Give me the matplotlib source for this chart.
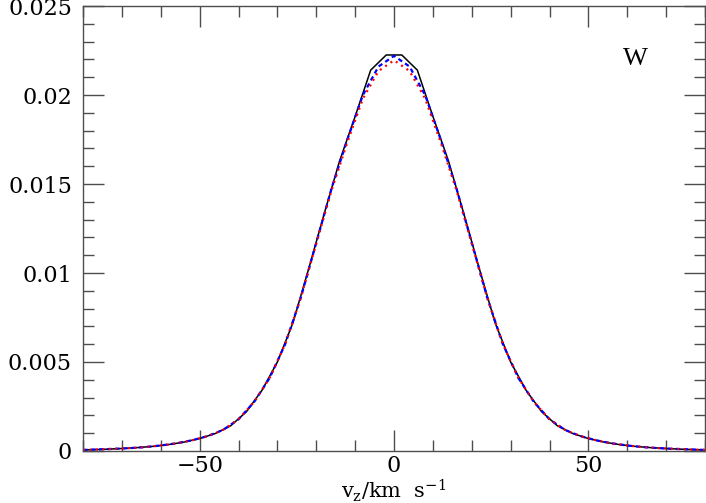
import numpy as np
import matplotlib
matplotlib.use("Agg")
import matplotlib.pyplot as plt
from matplotlib.ticker import MultipleLocator, FuncFormatter

plt.rcParams['font.family'] = ['DejaVu Serif']
plt.rcParams['mathtext.fontset'] = 'dejavuserif'
plt.rcParams['axes.unicode_minus'] = True

# black solid curve (grid every 4 km/s, centred on +-2)
vz_black = [-82, -78, -74, -70, -66, -62, -58, -54, -50, -46, -42, -38, -34, -30,
            -26, -22, -18, -14, -10, -6, -2, 2, 6, 10, 14, 18, 22, 26, 30, 34,
            38, 42, 46, 50, 54, 58, 62, 66, 70, 74, 78, 82]
f_black = [0.00005, 0.00007, 0.00010, 0.00014, 0.00019, 0.00026, 0.00036, 0.00050,
           0.00070, 0.00098, 0.00142, 0.00220, 0.00340, 0.00500, 0.00720, 0.01020,
           0.01330, 0.01630, 0.01880, 0.02140, 0.02225, 0.02225, 0.02140, 0.01880,
           0.01630, 0.01330, 0.01020, 0.00720, 0.00500, 0.00340, 0.00220, 0.00142,
           0.00098, 0.00070, 0.00050, 0.00036, 0.00026, 0.00019, 0.00014, 0.00010,
           0.00007, 0.00005]

# blue dashed and red dotted curves (grid every 4 km/s, centred on 0)
vz_col = [-80, -76, -72, -68, -64, -60, -56, -52, -48, -44, -40, -36, -32, -28,
          -24, -20, -16, -12, -8, -4, 0, 4, 8, 12, 16, 20, 24, 28, 32, 36, 40,
          44, 48, 52, 56, 60, 64, 68, 72, 76, 80]
f_blue = [0.00006, 0.00009, 0.00012, 0.00016, 0.00022, 0.00031, 0.00043, 0.00060,
          0.00083, 0.00118, 0.00178, 0.00275, 0.00410, 0.00600, 0.00860, 0.01170,
          0.01480, 0.01750, 0.02000, 0.02160, 0.02220, 0.02160, 0.02000, 0.01750,
          0.01480, 0.01170, 0.00860, 0.00600, 0.00410, 0.00275, 0.00178, 0.00118,
          0.00083, 0.00060, 0.00043, 0.00031, 0.00022, 0.00016, 0.00012, 0.00009,
          0.00006]
f_red = [0.00006, 0.00009, 0.00012, 0.00016, 0.00022, 0.00031, 0.00043, 0.00060,
         0.00083, 0.00118, 0.00178, 0.00275, 0.00410, 0.00600, 0.00860, 0.01165,
         0.01470, 0.01735, 0.01980, 0.02135, 0.02195, 0.02135, 0.01980, 0.01735,
         0.01470, 0.01165, 0.00860, 0.00600, 0.00410, 0.00275, 0.00178, 0.00118,
         0.00083, 0.00060, 0.00043, 0.00031, 0.00022, 0.00016, 0.00012, 0.00009,
         0.00006]

fig = plt.figure(figsize=(7.06, 5.03), dpi=100)
ax = fig.add_axes([0.1176, 0.1034, 0.8810, 0.8846])

ax.plot(vz_black, f_black, color='black', lw=1.1)
ax.plot(vz_col, f_blue, color='blue', lw=1.6, ls=(0, (2.0, 1.6)))
ax.plot(vz_col, f_red, color='red', lw=1.6, ls=(0, (0.9, 2.0)))

ax.set_xlim(-80, 80)
ax.set_ylim(0, 0.025)

ax.xaxis.set_major_locator(MultipleLocator(50))
ax.xaxis.set_minor_locator(MultipleLocator(10))
ax.yaxis.set_major_locator(MultipleLocator(0.005))
ax.yaxis.set_minor_locator(MultipleLocator(0.001))

fmt = FuncFormatter(lambda v, p: ('%g' % round(v, 6)).replace('-', '\u2212'))
ax.xaxis.set_major_formatter(fmt)
ax.yaxis.set_major_formatter(fmt)

ax.tick_params(which='both', direction='in', top=True, right=True,
               color='0.3', width=1.0, labelsize=16)
ax.tick_params(which='major', length=15, pad=8)
ax.tick_params(which='minor', length=8)
ax.tick_params(axis='x', which='major', pad=3)
for s in ax.spines.values():
    s.set_color('0.3')
    s.set_linewidth(1.0)

# x label placed by hand just below the tick labels
fig.text(394 / 706, 1 - 491 / 503, r'$\mathrm{v_z/km\ \ s^{-1}}$', fontsize=15,
         ha='center', va='center')
ax.text(62, 0.0220, 'W', fontsize=19, ha='center', va='center',
        family='Liberation Serif')

fig.savefig('out.png', dpi=100)
